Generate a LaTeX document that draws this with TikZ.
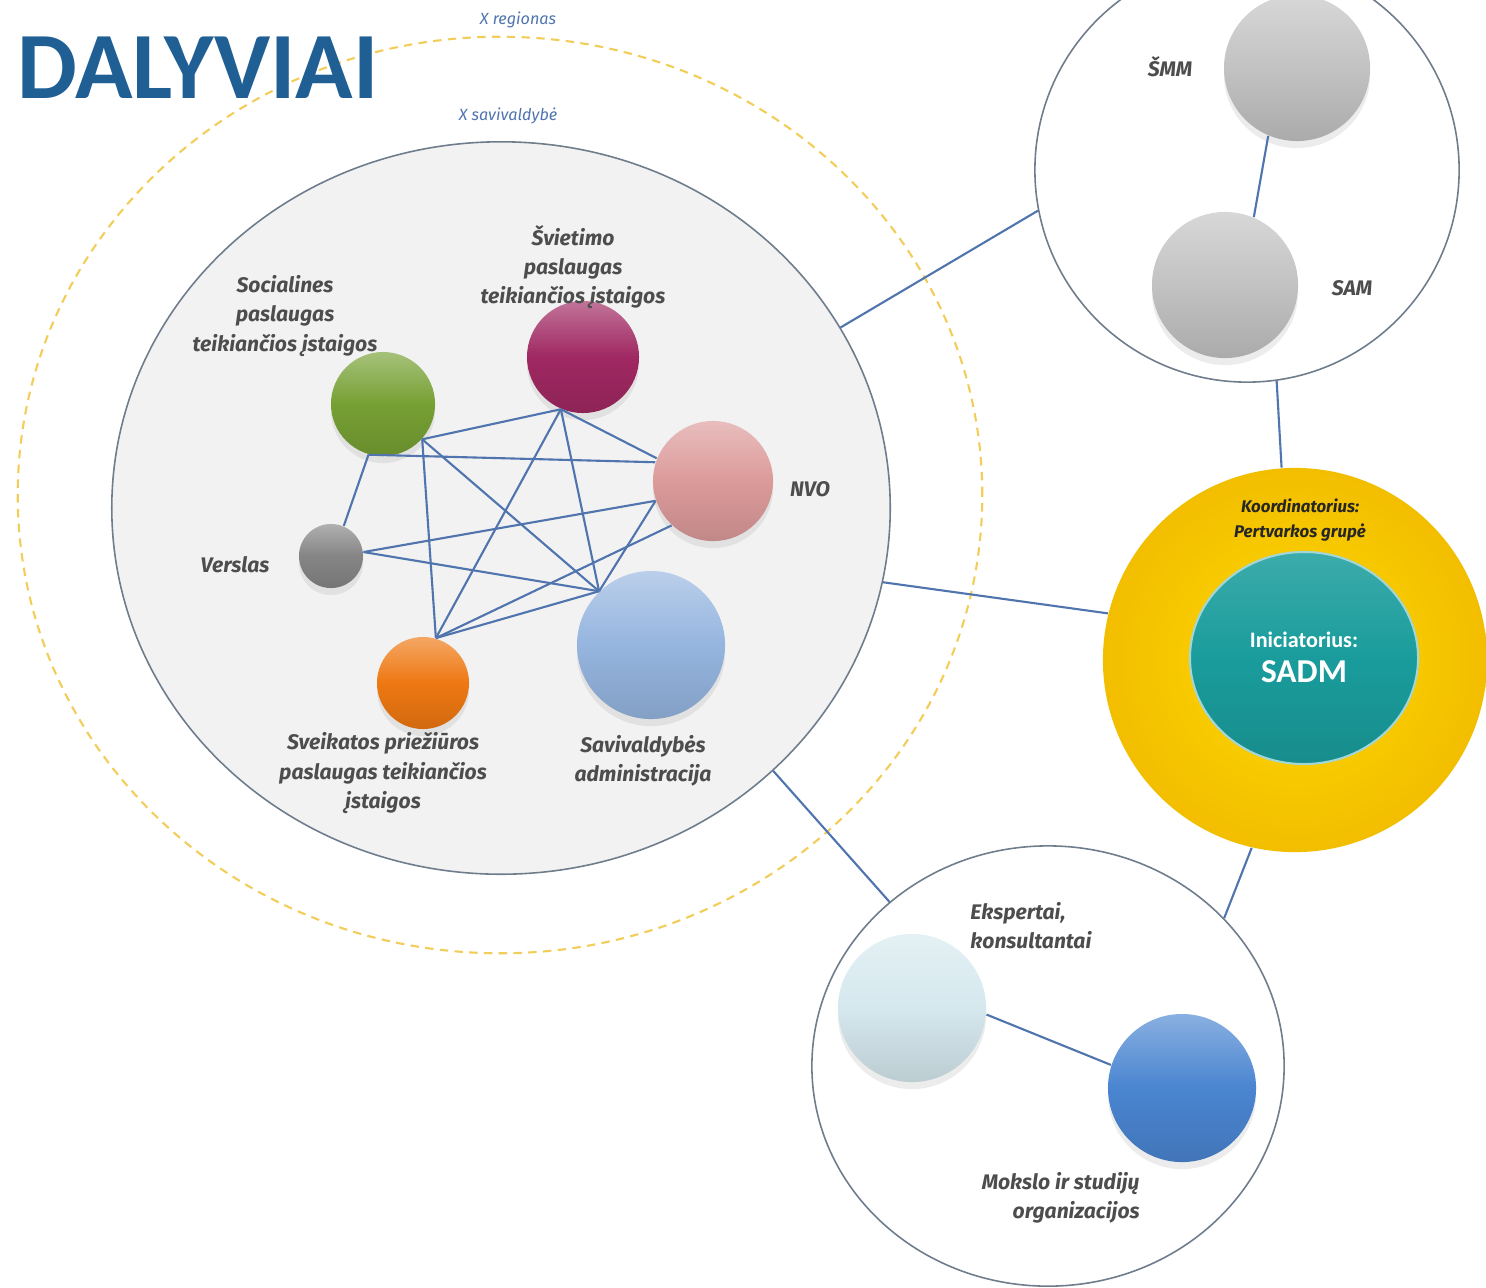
\documentclass[tikz,border=0pt]{standalone}
\usepackage{fontspec}
\setmainfont{Fira Sans}
\newfontfamily\titlefont{Carlito}
\usetikzlibrary{shapes.geometric,shadows}

\definecolor{titleblue}{HTML}{1F5F94}
\definecolor{linkblue}{HTML}{4F74AE}
\definecolor{ringgray}{HTML}{6E7C8C}
\definecolor{munigray}{HTML}{F2F2F2}
\definecolor{regionyellow}{HTML}{F3CD5A}
\definecolor{labelgray}{HTML}{4D4D4D}
\definecolor{ballgreen}{HTML}{76A033}
\definecolor{ballpurple}{HTML}{A02862}
\definecolor{ballpink}{HTML}{DC9A9A}
\definecolor{ballgray}{HTML}{858585}
\definecolor{ballblue}{HTML}{95B5DF}
\definecolor{ballorange}{HTML}{EE7812}
\definecolor{ballsilver}{HTML}{C2C2C2}
\definecolor{ballice}{HTML}{D5E8EE}
\definecolor{ballroyal}{HTML}{4A85D1}
\definecolor{coordyellow}{HTML}{FFC800}
\definecolor{initteal}{HTML}{1A9C9C}

\begin{document}
\begin{tikzpicture}[x=0.01cm, y=-0.01cm,
    ball/.style={circle, inner sep=0pt, top color=#1!65!white, bottom color=#1!88!black, middle color=#1,
        drop shadow={shadow xshift=0pt, shadow yshift=-2pt, opacity=0.15}},
    link/.style={draw=linkblue, line width=0.6pt},
    ring/.style={draw=ringgray, line width=0.45pt},
    label text/.style={font=\bfseries\itshape\fontsize{6}{8.3}\selectfont, text=labelgray, align=center},
    area text/.style={font=\itshape\fontsize{4.6}{6}\selectfont, text=linkblue}]

    \clip (0,0) rectangle (1486,1287);

    % Region and municipality
    \node[ellipse, draw=regionyellow, line width=0.6pt, dash pattern=on 2.4pt off 1.8pt,
        minimum width=9.64cm, minimum height=9.16cm] (region) at (500,495) {};
    \node[area text] (regionlbl) at (518,20) {X regionas};
    \node[ellipse, ring, fill=munigray, minimum width=7.78cm, minimum height=7.32cm] (muni) at (501,508) {};
    \node[area text] (munilbl) at (508,116) {X savivaldybė};

    \node[anchor=west, inner sep=0pt, text=titleblue, font=\titlefont\bfseries\fontsize{27}{28}\selectfont] (title) at (17,68) {DALYVIAI};

    % Municipal participants
    \node[ball=ballgreen, minimum size=1.04cm] (soc) at (383,404) {};
    \node[ball=ballpurple, minimum size=1.12cm] (svi) at (583,357) {};
    \node[ball=ballpink, minimum size=1.2cm] (nvo) at (713,481) {};
    \node[ball=ballgray, minimum size=0.64cm] (ver) at (331,556) {};
    \node[ball=ballblue, minimum size=1.48cm] (sav) at (651,645) {};
    \node[ball=ballorange, minimum size=0.92cm] (sve) at (423,683) {};

    \node[label text] (soclbl) at (285,316) {Socialines\\paslaugas\\teikiančios įstaigos};
    \node[label text] (svilbl) at (573,267) {Švietimo\\paslaugas\\teikiančios įstaigos};
    \node[label text] (nvolbl) at (810,489) {NVO};
    \node[label text] (verlbl) at (235,565) {Verslas};
    \node[label text] (svelbl) at (383,773) {Sveikatos priežiūros\\paslaugas teikiančios\\įstaigos};
    \node[label text] (savlbl) at (643,761) {Savivaldybės\\administracija};

    \draw[link] (soc.-42) -- (svi.-113);
    \draw[link] (svi.-113) -- (nvo.158);
    \draw[link] (soc.-106) -- (nvo.162);
    \draw[link] (soc.-106) -- (ver.67);
    \draw[link] (soc.-42) -- (sav.134);
    \draw[link] (soc.-42) -- (sve.74);
    \draw[link] (svi.-113) -- (sve.74);
    \draw[link] (svi.-113) -- (sav.134);
    \draw[link] (ver.7) -- (nvo.-161);
    \draw[link] (ver.7) -- (sav.134);
    \draw[link] (nvo.-161) -- (sav.134);
    \draw[link] (sve.74) -- (nvo.-133);
    \draw[link] (sve.74) -- (sav.134);

    % Ministries
    \node[circle, ring, fill=white, minimum size=4.24cm] (topc) at (1247,170) {};
    \node[ball=ballsilver, minimum size=1.46cm] (smm) at (1297,68) {};
    \node[ball=ballsilver, minimum size=1.46cm] (sam) at (1225,285) {};
    \node[label text] (smmlbl) at (1170,67) {ŠMM};
    \node[label text] (samlbl) at (1352,288) {SAM};
    \draw[link] (smm.-113) -- (sam.67);

    % Coordinator and initiator
    \node[circle, inner sep=0pt, minimum size=3.84cm, inner color=coordyellow!70!yellow, outer color=coordyellow!95!black] (coord) at (1295,660) {};
    \node[ellipse, inner sep=0pt, minimum width=2.28cm, minimum height=2.12cm, draw=initteal!40!white, line width=0.6pt,
        top color=initteal!85!white, bottom color=initteal!90!black, middle color=initteal] (init) at (1304,658) {};
    \node[font=\bfseries\itshape\fontsize{4.8}{7}\selectfont, text=black!85, align=center] (coordlbl) at (1300,520) {Koordinatorius:\\Pertvarkos grupė};
    \node[text=white, font=\titlefont\bfseries\fontsize{6.3}{7}\selectfont] (initlbl) at (1304,640) {Iniciatorius:};
    \node[text=white, font=\titlefont\bfseries\fontsize{9.5}{10}\selectfont] (sadm) at (1304,672) {SADM};

    % Experts and science
    \node[ellipse, ring, fill=white, minimum width=4.72cm, minimum height=4.40cm] (expert) at (1048,1066) {};
    \node[ball=ballice, minimum size=1.48cm] (eks) at (912,1008) {};
    \node[ball=ballroyal, minimum size=1.48cm] (mok) at (1182,1088) {};
    \node[label text, align=left, anchor=west] (ekslbl) at (958,926) {Ekspertai,\\ konsultantai};
    \node[label text, align=right, anchor=east] (moklbl) at (1152,1198) {Mokslo ir studijų\\organizacijos};
    \draw[link] (eks.-5) -- (mok.162);

    % Links between groups
    \draw[link] (muni.28) -- (topc.191);
    \draw[link] (muni.-11) -- (coord.166);
    \draw[link] (muni.-44) -- (expert.134);
    \draw[link] (topc.-82) -- (coord.94);
    \draw[link] (coord.-103) -- (expert.40);

\end{tikzpicture}
\end{document}
